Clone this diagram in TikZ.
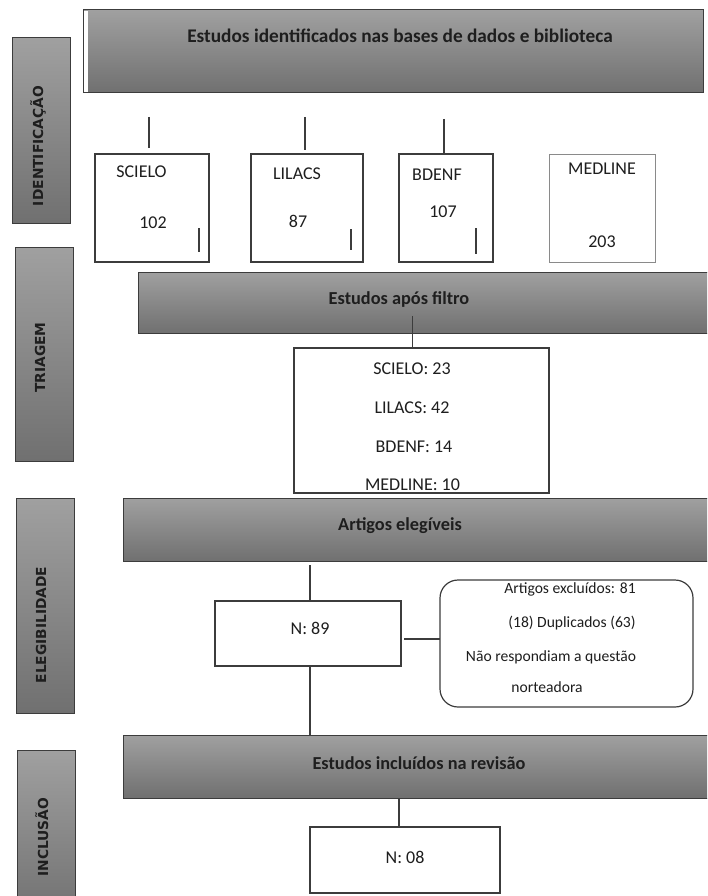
\documentclass[tikz,border=0pt]{standalone}
\usepackage{fontspec}
\setmainfont{Carlito}
\newfontfamily\sidefont{DejaVu Sans}
\definecolor{bord}{HTML}{3C3C3C}
\definecolor{barTop}{HTML}{A0A0A0}
\definecolor{barBot}{HTML}{707070}
\definecolor{ink}{HTML}{1E1E1E}
\definecolor{lightbord}{HTML}{8A8A8A}
\begin{document}
\begin{tikzpicture}[x=1pt,y=-1pt,
  bar/.style={draw=bord,line width=1pt,top color=barTop,bottom color=barBot,inner sep=0pt,outer sep=0pt,anchor=north west},
  wbox/.style={draw=bord,line width=1.2pt,fill=white,inner sep=0pt,outer sep=0pt,anchor=north west},
  head/.style={font=\fontsize{18.3}{22}\selectfont\bfseries,text=ink,anchor=base,inner sep=0pt},
  body/.style={font=\fontsize{18}{22}\selectfont,text=ink,anchor=base,inner sep=0pt},
  smalltxt/.style={font=\fontsize{15.6}{19}\selectfont,text=ink,anchor=base,inner sep=0pt},
  side/.style={font=\sidefont\bfseries\fontsize{13.8}{16}\selectfont,text=ink,anchor=base,rotate=90,inner sep=0pt},
  link/.style={draw=bord,line width=1.3pt},
]
\path[use as bounding box] (0,0) rectangle (707,896);
\clip (0,0) rectangle (707,896);

% ---------- side stage labels ----------
\node[bar,minimum width=58pt,minimum height=185pt] (s1) at (12,38) {};
\node[side] (t1) at (43,146) {IDENTIFICAÇÃO};
\node[bar,minimum width=58pt,minimum height=214pt] (s2) at (15,247) {};
\node[side] (t2) at (45,357.5) {TRIAGEM};
\node[bar,minimum width=58pt,minimum height=215pt] (s3) at (16,498) {};
\node[side] (t3) at (46,625) {ELEGIBILIDADE};
\node[bar,minimum width=58pt,minimum height=170pt] (s4) at (17,750) {};
\node[side] (t4) at (48,837) {INCLUSÃO};

% ---------- gray header bars ----------
\node[bar,minimum width=620pt,minimum height=83pt] (top) at (83,10) {};
\fill[white] (84,11) rectangle (87.5,92.3);
\node[head,font=\fontsize{19.3}{23}\selectfont\bfseries] (toptxt) at (400,43) {Estudos identificados nas bases de dados e biblioteca};

\node[bar,minimum width=580pt,minimum height=61pt] (filt) at (138,272) {};
\node[head] (filttxt) at (399,304) {Estudos após filtro};

\node[bar,minimum width=595pt,minimum height=63pt] (eleg) at (123,498) {};
\node[head] (elegtxt) at (400,530) {Artigos elegíveis};

\node[bar,minimum width=595pt,minimum height=63pt] (incl) at (123,735) {};
\node[head] (incltxt) at (419,769) {Estudos incluídos na revisão};

% ---------- database boxes ----------
\node[wbox,minimum width=114pt,minimum height=108pt] (scielo) at (95,154) {};
\node[body] (scielot) at (141.5,178) {SCIELO};
\node[body] (scielon) at (153,228) {102};

\node[wbox,minimum width=112pt,minimum height=108pt] (lilacs) at (251,154) {};
\node[body] (lilacst) at (297,180) {LILACS};
\node[body] (lilacsn) at (298,227) {87};

\node[wbox,minimum width=94pt,minimum height=108pt] (bdenf) at (399,154) {};
\node[body] (bdenft) at (437,181) {BDENF};
\node[body] (bdenfn) at (443,217) {107};

\node[wbox,draw=lightbord,line width=0.9pt,minimum width=106pt,minimum height=108pt] (medline) at (549,154) {};
\node[body] (medlinet) at (602,175) {MEDLINE};
\node[body] (medlinen) at (602,247) {203};

% short strokes above and inside the boxes
\coordinate (a1) at (149,117);
\coordinate (a2) at (305,117);
\coordinate (a3) at (444,119);
\draw[link] (a1) -- (149,148);
\draw[link] (a2) -- (305,150);
\draw[link] (a3) -- (a3 |- bdenf.north);
\draw[link] (199,228) -- (199,252);
\draw[link] (351,229) -- (351,250);
\draw[link] (476,228) -- (476,254);

% ---------- filtered box ----------
\node[wbox,minimum width=255pt,minimum height=145pt] (fbox) at (294,348) {};
\node[body] (f1) at (412,374) {SCIELO: 23};
\node[body] (f2) at (412,413) {LILACS: 42};
\node[body] (f3) at (414,452) {BDENF: 14};
\node[body] (f4) at (412.5,490) {MEDLINE: 10};
\coordinate (b1) at (412.5,316);
\draw[link] (b1) -- (b1 |- fbox.north);

% ---------- eligibility ----------
\node[wbox,minimum width=186pt,minimum height=65pt] (n89) at (215,601) {};
\node[body] (n89t) at (310,634) {N: 89};
\node[wbox,rounded corners=18pt,minimum width=253pt,minimum height=127pt] (excl) at (440,580) {};
\node[smalltxt] (e1) at (570,593) {Artigos excluídos: 81};
\node[smalltxt] (e2) at (572,627) {(18) Duplicados (63)};
\node[smalltxt] (e3) at (551,661) {Não respondiam a questão};
\node[smalltxt] (e4) at (547,692) {norteadora};

\coordinate (c1) at (310,565);
\draw[link] (c1) -- (c1 |- n89.north);
\draw[link] (c1 |- n89.south) -- (c1 |- incl.north);
\coordinate (c2) at (404,639);
\draw[link] (c2) -- (c2 -| excl.west);

% ---------- inclusion ----------
\node[wbox,minimum width=190pt,minimum height=66pt] (n08) at (310,827) {};
\node[body] (n08t) at (405,863) {N: 08};
\coordinate (d1) at (399,798);
\draw[link] (d1 |- incl.south) -- (d1 |- n08.north);
\end{tikzpicture}
\end{document}
